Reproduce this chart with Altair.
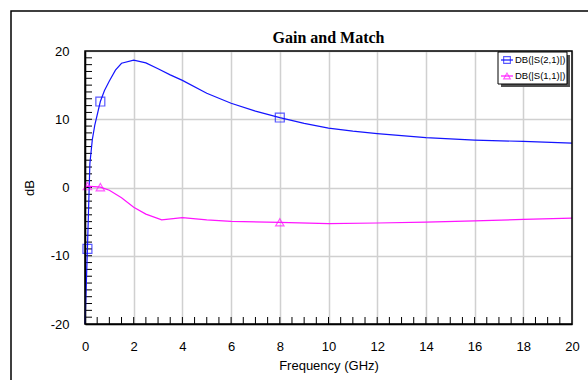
import altair as alt
import pandas as pd

# ---- data ----
series_names = ["DB(|S(2,1)|)", "DB(|S(1,1)|)"]
series_colors = ["#1414ff", "#ff14ff"]

freq_s21 = [0.0, 0.1, 0.2, 0.3, 0.4, 0.63, 0.8, 1.0, 1.25, 1.5, 2.0, 2.5, 3.0, 3.5,
            4.0, 5.0, 6.0, 7.0, 8.0, 9.0, 10.0, 11.0, 12.0, 14.0, 16.0, 18.0, 20.0]
s21_db = [-20.0, -9.0, 3.5, 7.0, 9.1, 12.6, 14.2, 15.6, 17.2, 18.2, 18.65, 18.25, 17.4, 16.5,
          15.7, 13.8, 12.35, 11.2, 10.25, 9.4, 8.7, 8.25, 7.9, 7.3, 6.95, 6.75, 6.5]

freq_s11 = [0.0, 0.1, 0.63, 1.0, 1.5, 2.0, 2.5, 3.15, 4.0, 5.0, 6.0, 8.0,
            10.0, 12.0, 14.0, 16.0, 18.0, 20.0]
s11_db = [0.0, 0.2, 0.05, -0.4, -1.5, -2.9, -3.9, -4.75, -4.4, -4.73, -4.97, -5.1,
          -5.3, -5.2, -5.07, -4.88, -4.68, -4.48]

marker_freq = [0.1, 0.63, 8.0]

chart_title = "Gain and Match"
x_title = "Frequency (GHz)"
y_title = "dB"
x_ticks = [0, 2, 4, 6, 8, 10, 12, 14, 16, 18, 20]
y_ticks = [-20, -10, 0, 10, 20]
x_minor = [i * 0.5 for i in range(1, 40)]
y_minor = list(range(-19, 20))

W, H = 487, 273

df = pd.concat([
    pd.DataFrame({"freq": freq_s21, "dB": s21_db, "series": series_names[0]}),
    pd.DataFrame({"freq": freq_s11, "dB": s11_db, "series": series_names[1]}),
])

xscale = alt.Scale(domain=[0, 20], nice=False, zero=False)
yscale = alt.Scale(domain=[-20, 20], nice=False, zero=False)
cscale = alt.Scale(domain=series_names, range=series_colors)

xaxis = alt.Axis(values=x_ticks, title=x_title, titleX=W / 2, titleY=45,
                 titleBaseline="alphabetic", titleAlign="center", labelFlush=False,
                 labelExpr="'' + datum.value")
yaxis = alt.Axis(values=y_ticks, title=y_title, titleX=-56, titleY=H / 2,
                 titleAngle=270, titleBaseline="middle", titleAlign="center", labelFlush=False,
                 labelExpr="'' + datum.value")


def X():
    return alt.X("freq:Q", scale=xscale, axis=xaxis)


def Y():
    return alt.Y("dB:Q", scale=yscale, axis=yaxis)


base = alt.Chart(df)

lines = base.mark_line(strokeWidth=1.2).encode(
    x=X(), y=Y(),
    color=alt.Color("series:N", scale=cscale, legend=None),
)

markers_s21 = base.transform_filter(
    alt.datum.series == series_names[0]
).transform_filter(alt.FieldOneOfPredicate(field="freq", oneOf=marker_freq)).mark_point(
    shape="square", filled=False, size=80, strokeWidth=1.2, color=series_colors[0]
).encode(x=X(), y=Y())

markers_s11 = base.transform_filter(
    alt.datum.series == series_names[1]
).transform_filter(alt.FieldOneOfPredicate(field="freq", oneOf=marker_freq)).mark_point(
    shape="triangle-up", filled=False, size=70, strokeWidth=1.2, color=series_colors[1]
).encode(x=X(), y=Y())

# inside minor ticks
xt = alt.Chart(pd.DataFrame({"freq": x_minor})).mark_rule(color="black", strokeWidth=1).encode(
    x=X(), y=alt.value(H - 7), y2=alt.value(H))
yt = alt.Chart(pd.DataFrame({"dB": y_minor})).mark_rule(color="black", strokeWidth=1).encode(
    y=Y(), x=alt.value(0), x2=alt.value(7))

one = pd.DataFrame({"a": [0]})
# outer frame and plot border
frame = alt.Chart(one).mark_rect(filled=False, stroke="black", strokeWidth=1.5).encode(
    x=alt.value(-74), x2=alt.value(620), y=alt.value(-40), y2=alt.value(420))
border = alt.Chart(one).mark_rect(filled=False, stroke="black", strokeWidth=1.5).encode(
    x=alt.value(0), x2=alt.value(W), y=alt.value(0), y2=alt.value(H))

title = alt.Chart(one).mark_text(
    font="Liberation Serif", fontSize=16, fontWeight="bold", color="black",
    align="center", baseline="alphabetic"
).encode(x=alt.value(W / 2), y=alt.value(-8.5), text=alt.value(chart_title))

# legend box with shadow
shadow = alt.Chart(one).mark_rect(color="#505050").encode(
    x=alt.value(416), x2=alt.value(485), y=alt.value(4), y2=alt.value(36))
box = alt.Chart(one).mark_rect(fill="white", stroke="black", strokeWidth=1).encode(
    x=alt.value(413), x2=alt.value(482), y=alt.value(1), y2=alt.value(33))

leg_df = pd.DataFrame({"series": series_names})
leg_layers = []
shapes = ["square", "triangle-up"]
for i, name in enumerate(series_names):
    yy = 9 + 16 * i
    lb = alt.Chart(leg_df).transform_filter(alt.datum.series == name)
    leg_layers.append(lb.mark_rule(color=series_colors[i], strokeWidth=1.2).encode(
        x=alt.value(416), x2=alt.value(428), y=alt.value(yy)))
    leg_layers.append(lb.mark_point(shape=shapes[i], filled=False, size=45, strokeWidth=1.1,
                                    color=series_colors[i]).encode(
        x=alt.value(422), y=alt.value(yy)))
    leg_layers.append(lb.mark_text(align="left", baseline="middle", fontSize=9.5,
                                   font="Liberation Sans", color="black").encode(
        x=alt.value(430), y=alt.value(yy), text="series:N"))

chart = alt.layer(
    frame, xt, yt, lines, markers_s21, markers_s11, border, title, shadow, box, *leg_layers
).properties(
    width=W, height=H,
    background="white",
    autosize=alt.AutoSizeParams(type="none"),
    padding={"left": 85, "top": 51, "right": 16, "bottom": 56},
).configure_view(
    stroke=None
).configure_axis(
    labelFont="Liberation Sans", labelFontSize=13, labelColor="black",
    titleFont="Liberation Sans", titleFontSize=13, titleColor="black", titleFontWeight="normal",
    ticks=False, tickSize=0, labelPadding=16,
    domainColor="black", domainWidth=1.5,
    grid=True, gridColor="#d0d0d0", gridWidth=1.5,
)

chart.save("out.html", embed_options={"renderer": "svg", "actions": False})
